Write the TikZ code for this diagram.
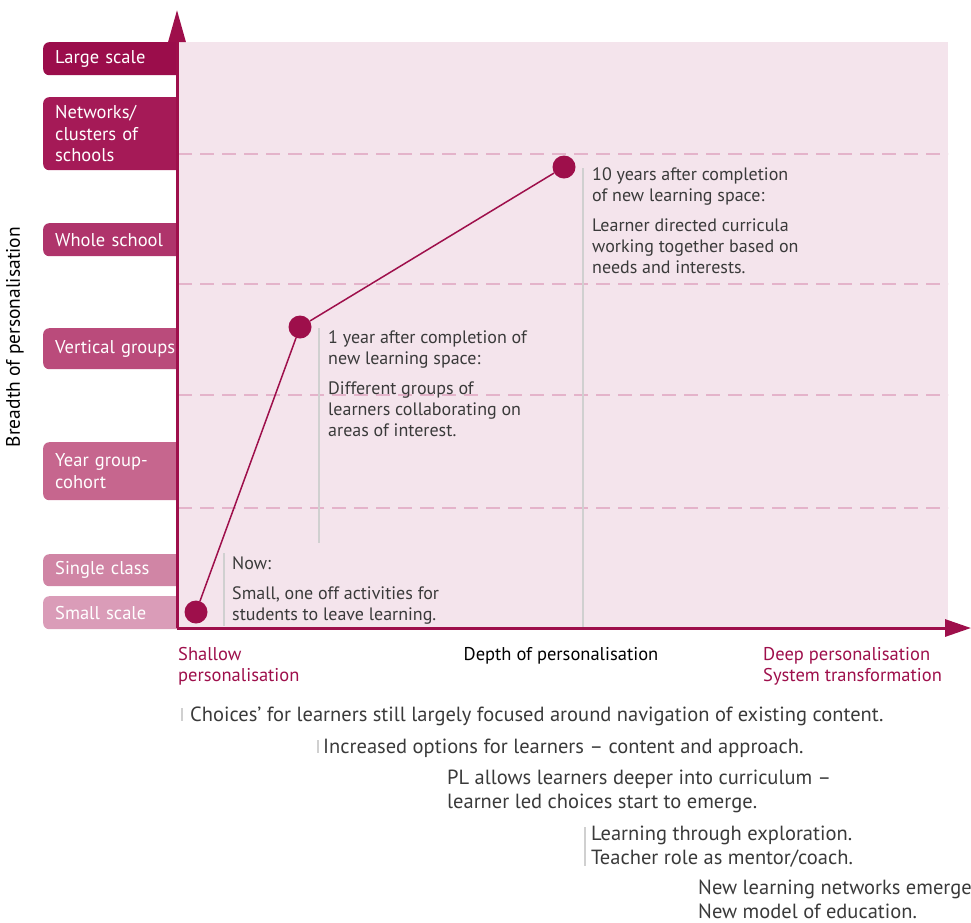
\documentclass[tikz,border=0pt]{standalone}
\usepackage{fontspec}
\setmainfont{PT Sans}
\usetikzlibrary{positioning,arrows.meta}
\definecolor{plAxis}{HTML}{9E0F4B}
\definecolor{plField}{HTML}{F4E4EC}
\definecolor{plGrid}{HTML}{E4B3CA}
\definecolor{plBar}{HTML}{D0D0D0}
\definecolor{plText}{HTML}{3A3A3A}
\definecolor{plScaleA}{HTML}{9B0D4B}
\definecolor{plScaleB}{HTML}{A51A57}
\definecolor{plScaleC}{HTML}{AF346B}
\definecolor{plScaleD}{HTML}{BA4B7B}
\definecolor{plScaleE}{HTML}{C6668E}
\definecolor{plScaleF}{HTML}{D085A5}
\definecolor{plScaleG}{HTML}{DA9CB8}
\tikzset{
  scalebox/.style={
    fill=#1, text=white, rounded corners=6pt, anchor=north west,
    text width=125pt, inner xsep=12pt, inner ysep=0pt, align=left,
    font=\fontsize{18.5}{21.5}\selectfont},
  axisline/.style={draw=plAxis, line width=3pt},
  gridline/.style={draw=plGrid, line width=2pt, dash pattern=on 14pt off 8pt},
  stagedot/.style={circle, fill=plAxis, minimum size=23pt, inner sep=0pt},
  trend/.style={draw=plAxis, line width=1.5pt},
  notebar/.style={draw=plBar, line width=2.5pt},
  note/.style={anchor=base west, align=left, inner sep=0pt, text=plText,
    font=\fontsize{18}{21}\selectfont},
  outcome/.style={anchor=base west, align=left, inner sep=0pt, text=plText,
    font=\fontsize{20.5}{24}\selectfont},
  endlabel/.style={anchor=base west, align=left, inner sep=0pt, text=plAxis,
    font=\fontsize{18.5}{21}\selectfont},
  axislabel/.style={inner sep=0pt, text=black, font=\fontsize{18.5}{21}\selectfont},
}

\begin{document}
\begin{tikzpicture}[x=1pt, y=-1pt]
\useasboundingbox (0,0) rectangle (971,922);

% ---- breadth scale on the left
\node[scalebox=plScaleA, minimum height=33pt] (large)    at (43,42)  {Large scale};
\node[scalebox=plScaleB, minimum height=73pt] (networks) at (43,97)  {Networks/\\clusters of\\schools};
\node[scalebox=plScaleC, minimum height=33pt] (whole)    at (43,223) {Whole school};
\node[scalebox=plScaleD, minimum height=41pt] (vertical) at (43,328) {Vertical groups};
\node[scalebox=plScaleE, minimum height=58pt] (year)     at (43,442) {Year group-\\cohort};
\node[scalebox=plScaleF, minimum height=32pt] (single)   at (43,554) {Single class};
\node[scalebox=plScaleG, minimum height=33pt] (small)    at (43,596) {Small scale};

% ---- the field
\fill[plField] (178,42) rectangle (948,628);
\foreach \y in {154,284,395,508}
  \draw[gridline] (178,\y) -- (948,\y);

% ---- axes
\coordinate (origin) at (177,628);
\coordinate (ytip)   at (177,10);
\coordinate (xtip)   at (971,628);
\draw[axisline, -{Triangle[length=32pt, width=17pt]}] (origin) -- (ytip);
\draw[axisline, -{Triangle[length=26pt, width=17pt]}] (origin) -- (xtip);

\node[axislabel, rotate=90, font=\fontsize{19.5}{21}\selectfont] (breadth) at (15,337) {Breadth of personalisation};
\node[axislabel, anchor=base] (depth) at (561,660) {Depth of personalisation};
\node[endlabel] (shallow) at (178,681) {Shallow\\personalisation};
\node[endlabel] (deep)    at (763,681) {Deep personalisation\\System transformation};

% ---- notes along the way
\draw[notebar] (224,553) -- (224,626);
\draw[notebar] (319,328) -- (319,543);
\draw[notebar] (583,168) -- (583,627);

\node[note] (nowtxt) at (232,620) {Now:\\[9pt]Small, one off activities for\\students to leave learning.};
\node[note] (onetxt) at (328,436) {1 year after completion of\\new learning space:\\[9pt]Different groups of\\learners collaborating on\\areas of interest.};
\node[note] (tentxt) at (592,273) {10 years after completion\\of new learning space:\\[9pt]Learner directed curricula\\working together based on\\needs and interests.};

% ---- the path
\node[stagedot] (now)    at (196,612) {};
\node[stagedot] (oneyr)  at (300,327) {};
\node[stagedot] (tenyrs) at (564,167) {};
\draw[trend] (now) -- (oneyr) -- (tenyrs);

% ---- what changes with depth
\draw[notebar, line width=1.5pt] (182,708) -- (182,721);
\draw[notebar, line width=1.5pt] (318,740) -- (318,753);
\draw[notebar, line width=1.5pt] (585,827) -- (585,866);
\node[outcome] (choices)   at (190,721) {Choices' for learners still largely focused around navigation of existing content.};
\node[outcome] (options)   at (323,753) {Increased options for learners -- content and approach.};
\node[outcome] (deeper)    at (447,808) {PL allows learners deeper into curriculum --\\learner led choices start to emerge.};
\node[outcome] (explore)   at (591,864) {Learning through exploration.\\Teacher role as mentor/coach.};
\node[outcome] (networked) at (698,918) {New learning networks emerge\\New model of education.};

\end{tikzpicture}
\end{document}
